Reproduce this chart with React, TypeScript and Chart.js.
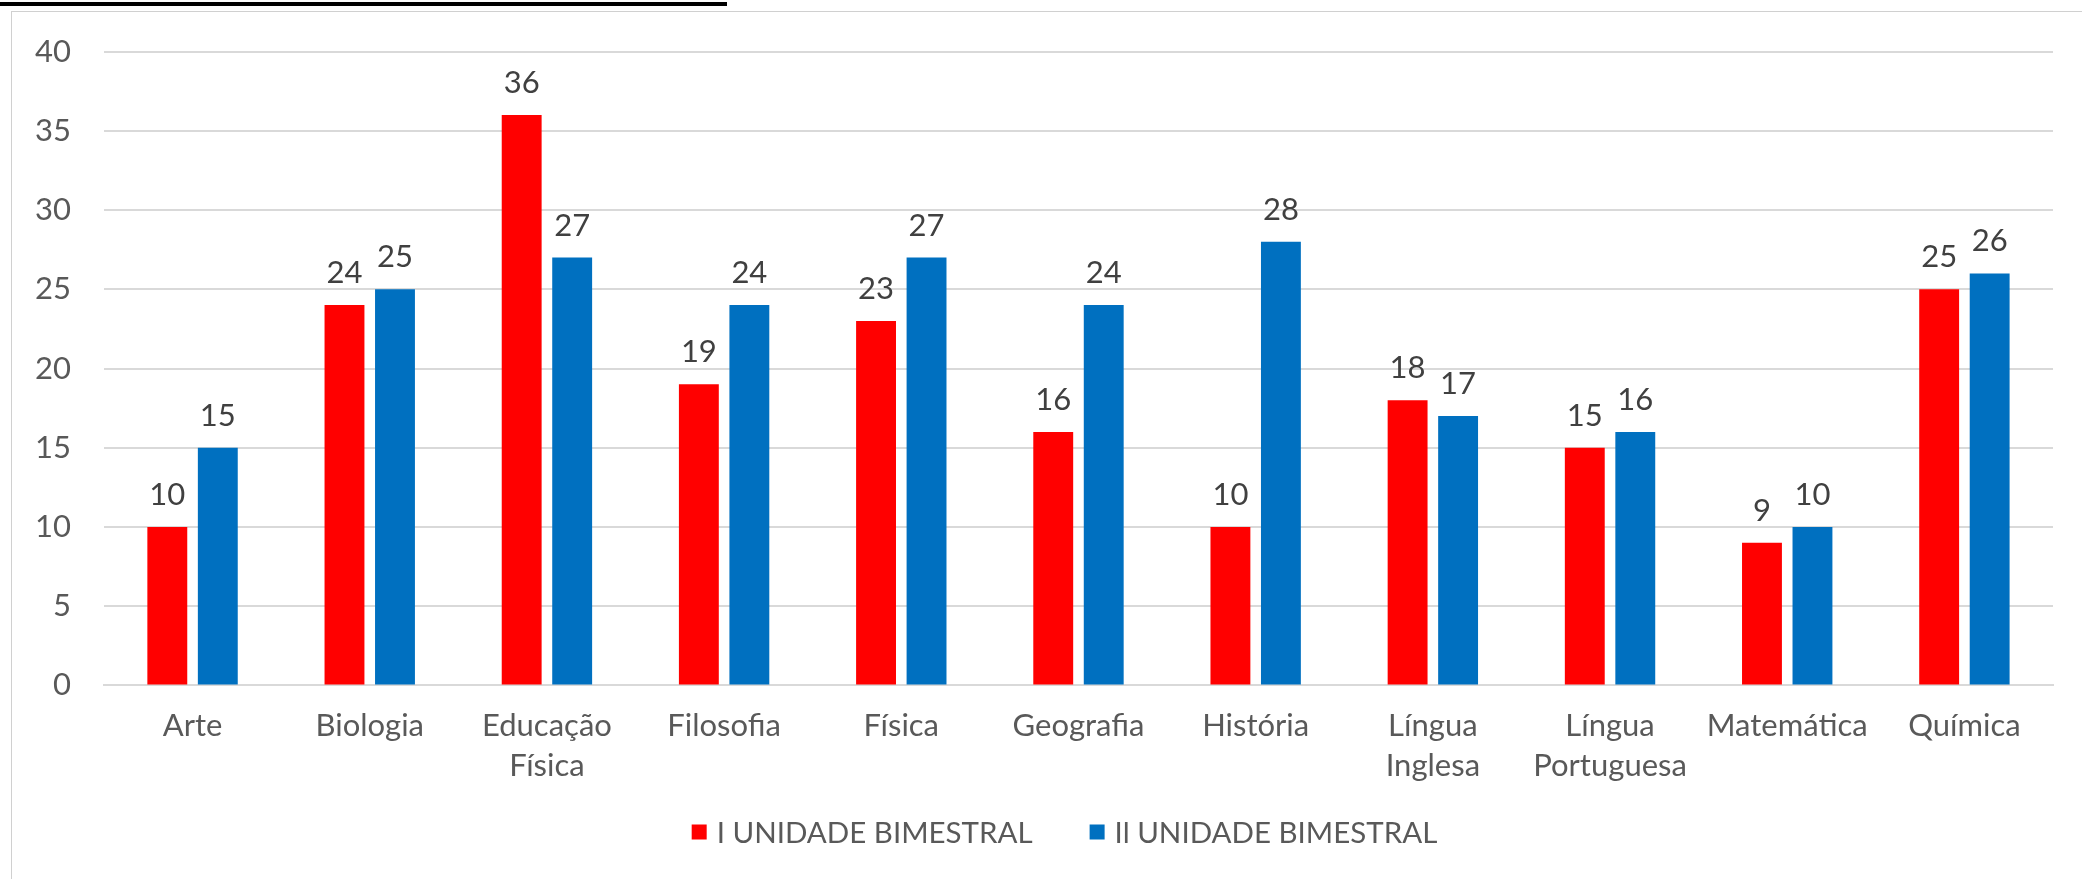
import React, { useEffect, useRef } from "react";
import { Chart, registerables } from "chart.js";

Chart.register(...registerables);

const categories: (string | string[])[] = [
  "Arte",
  "Biologia",
  ["Educação", "Física"],
  "Filosofia",
  "Física",
  "Geografia",
  "História",
  ["Língua", "Inglesa"],
  ["Língua", "Portuguesa"],
  "Matemática",
  "Química",
];
const serie1Label = "I UNIDADE BIMESTRAL";
const serie2Label = "Il UNIDADE BIMESTRAL";
const serie1 = [10, 24, 36, 19, 23, 16, 10, 18, 15, 9, 25];
const serie2 = [15, 25, 27, 24, 27, 24, 28, 17, 16, 10, 26];
const yMin = 0;
const yMax = 40;
const yStep = 5;

const FONT = "Lato";
const FS = 31;
const LEGEND_FS = 29.5;

const dataLabels = {
  id: "dataLabels",
  afterDatasetsDraw(chart: any) {
    const ctx = chart.ctx;
    ctx.save();
    ctx.font = `${FS}px ${FONT}`;
    ctx.fillStyle = "#404040";
    ctx.textAlign = "center";
    ctx.textBaseline = "alphabetic";
    chart.data.datasets.forEach((ds: any, i: number) => {
      const meta = chart.getDatasetMeta(i);
      meta.data.forEach((bar: any, j: number) => {
        ctx.fillText(String(ds.data[j]), bar.x, bar.y - 22);
      });
    });
    ctx.restore();
  },
};

const bottomLegend = {
  id: "bottomLegend",
  afterDraw(chart: any) {
    const ctx = chart.ctx;
    const box = 15;
    const gapText = 10;
    const gapItem = 57;
    const yc = 832;
    ctx.save();
    ctx.font = `${LEGEND_FS}px ${FONT}`;
    const items = chart.data.datasets.map((ds: any) => ({
      text: ds.label,
      color: ds.backgroundColor,
      w: ctx.measureText(ds.label).width,
    }));
    let total = 0;
    items.forEach((it: any, i: number) => {
      total += box + gapText + it.w + (i > 0 ? gapItem : 0);
    });
    const cx = (chart.chartArea.left + chart.chartArea.right) / 2 - 14;
    let x = cx - total / 2;
    ctx.textBaseline = "middle";
    ctx.textAlign = "left";
    items.forEach((it: any) => {
      ctx.fillStyle = it.color;
      ctx.fillRect(x, yc - box / 2, box, box);
      x += box + gapText;
      ctx.fillStyle = "#595959";
      ctx.fillText(it.text, x, yc + 1);
      x += it.w + gapItem;
    });
    ctx.restore();
  },
};

export default function App() {
  const ref = useRef<HTMLCanvasElement | null>(null);
  useEffect(() => {
    if (!ref.current) return;
    const chart = new Chart(ref.current, {
      type: "bar",
      data: {
        labels: categories,
        datasets: [
          {
            label: serie1Label,
            data: serie1,
            backgroundColor: "#FF0000",
            categoryPercentage: 0.57,
            barPercentage: 0.79,
          },
          {
            label: serie2Label,
            data: serie2,
            backgroundColor: "#0070C0",
            categoryPercentage: 0.57,
            barPercentage: 0.79,
          },
        ],
      },
      options: {
        responsive: false,
        animation: false,
        devicePixelRatio: 1,
        layout: { padding: { left: 2, right: 29, top: 28, bottom: 73 } },
        plugins: {
          tooltip: { enabled: false },
          legend: { display: false },
        },
        scales: {
          x: {
            grid: { display: false, drawTicks: false },
            border: { display: true, color: "#d9d9d9", width: 2 },
            ticks: {
              color: "#595959",
              font: { family: FONT, size: FS, lineHeight: 1.3 },
              padding: 20,
              maxRotation: 0,
              autoSkip: false,
            },
          },
          y: {
            min: yMin,
            max: yMax,
            grid: { color: "#d9d9d9", lineWidth: 2, drawTicks: false },
            border: { display: false },
            ticks: {
              stepSize: yStep,
              color: "#595959",
              font: { family: FONT, size: FS },
              padding: 33,
            },
          },
        },
      },
      plugins: [dataLabels, bottomLegend],
    });
    return () => chart.destroy();
  }, []);

  return (
    <div style={{ position: "fixed", left: 0, top: 0, width: 2082, height: 879, overflow: "hidden", background: "#fff" }}>
      <div style={{ position: "absolute", left: 0, top: 2, width: 727, height: 4, background: "#000" }} />
      <div style={{ position: "absolute", left: 11, top: 11, width: 2100, height: 900, border: "1px solid #d0d0d0" }} />
      <canvas ref={ref} width={2082} height={879} style={{ position: "absolute", left: 0, top: 0, width: 2082, height: 879 }} />
    </div>
  );
}
